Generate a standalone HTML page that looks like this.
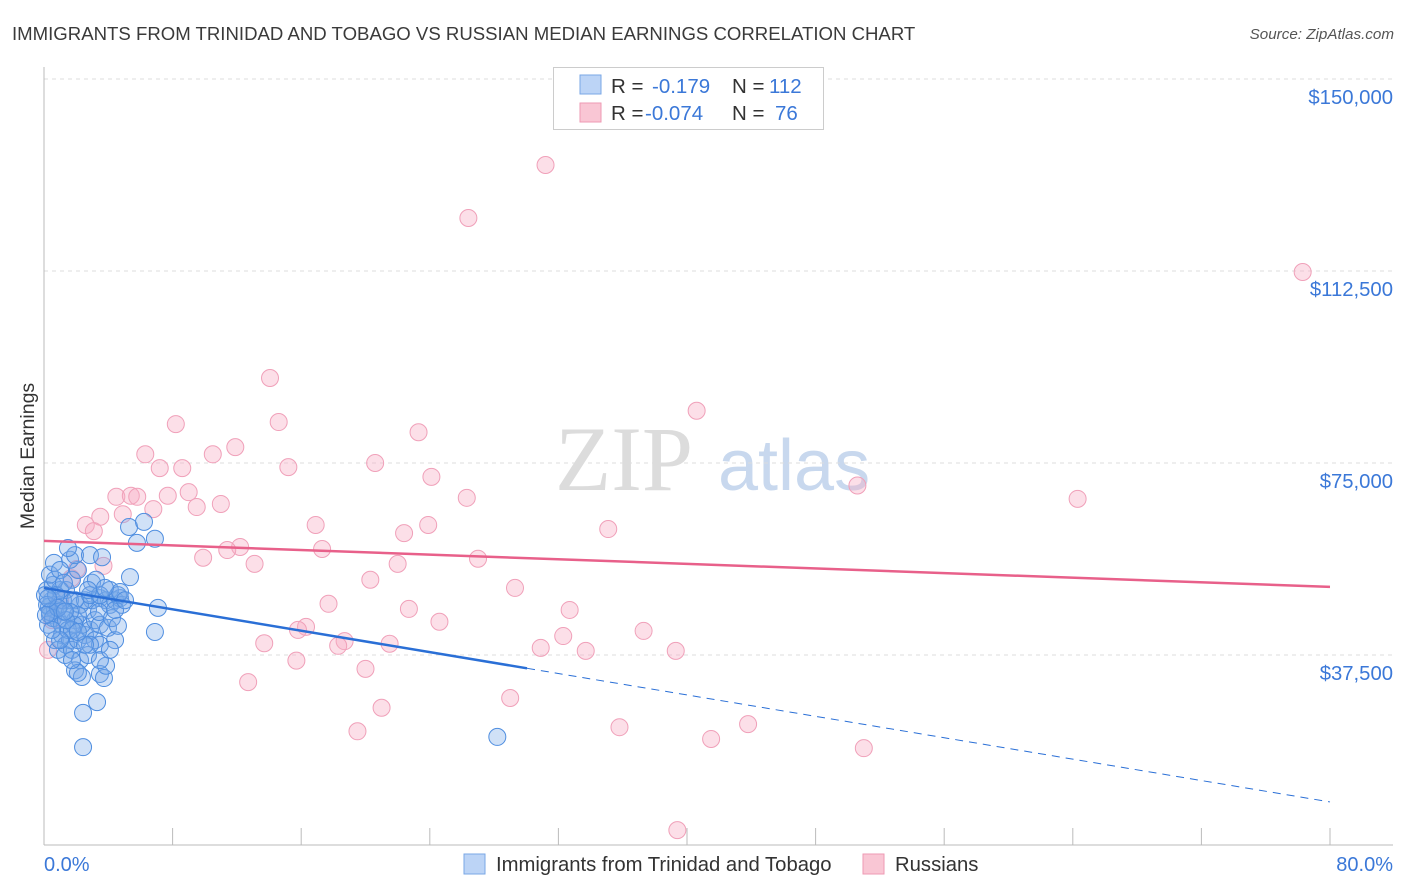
<!DOCTYPE html>
<html><head><meta charset="utf-8"><style>
body{margin:0;background:#fff;font-family:"Liberation Sans",sans-serif}
svg{display:block}
</style></head><body>
<svg id="chart" width="1406" height="892" viewBox="0 0 1406 892">
<text x="12" y="40" font-size="18.6" fill="#3a3a3a">IMMIGRANTS FROM TRINIDAD AND TOBAGO VS RUSSIAN MEDIAN EARNINGS CORRELATION CHART</text>
<text x="1394" y="39" font-size="15.2" fill="#555" font-style="italic" text-anchor="end">Source: ZipAtlas.com</text>
<text transform="translate(34,456) rotate(-90)" font-size="19.5" fill="#333" text-anchor="middle">Median Earnings</text>
<g><text x="555" y="490" font-size="92" fill="#dcdcdc" font-family="Liberation Serif,serif">ZIP</text><text x="718" y="490" font-size="72" fill="#c8d8ee">atlas</text></g>
<g id="grid"></g><g id="axes"></g><g id="pink"></g><g id="blue"></g><g id="trends"></g>
<g>
<rect x="553.5" y="67.5" width="270" height="62" fill="#fff" stroke="#ccc"/>
<rect x="580" y="75" width="21" height="19" fill="#bcd4f6" stroke="#7aa7e6"/>
<rect x="580" y="103" width="21" height="19" fill="#f9c6d4" stroke="#ee9ab3"/>
<text x="611" y="93" font-size="20.5" fill="#333">R = </text><text x="652" y="93" font-size="20.5" fill="#3b78d8">-0.179</text>
<text x="732" y="93" font-size="20.5" fill="#333">N = </text><text x="769" y="93" font-size="20.5" fill="#3b78d8">112</text>
<text x="611" y="120" font-size="20.5" fill="#333">R = </text><text x="645" y="120" font-size="20.5" fill="#3b78d8">-0.074</text>
<text x="732" y="120" font-size="20.5" fill="#333">N = </text><text x="775" y="120" font-size="20.5" fill="#3b78d8">76</text>
</g>
<g>
<rect x="464" y="854" width="21" height="20" fill="#bcd4f6" stroke="#7aa7e6"/>
<text x="496" y="871" font-size="20.3" fill="#333">Immigrants from Trinidad and Tobago</text>
<rect x="863" y="854" width="21" height="20" fill="#f9c6d4" stroke="#ee9ab3"/>
<text x="895" y="871" font-size="20.3" fill="#333">Russians</text>
</g>
</svg>
<script>
const yTicks=[150000,112500,75000,37500];
const yTickLabels=["$150,000","$112,500","$75,000","$37,500"];
const xTicks=[0,8,16,24,32,40,48,56,64,72,80];
const xEndLabels=["0.0%","80.0%"];
const pinkX=[31.2,26.4,78.3,14.06,40.6,8.2,14.6,23.3,11.9,6.3,10.5,7.2,8.6,15.2,20.6,24.1,50.6,9.0,7.7,4.5,5.4,5.8,26.3,64.3,9.5,11.0,6.8,4.9,3.5,2.6,3.1,16.9,23.9,35.1,22.4,12.2,11.4,17.3,9.9,27.0,13.1,22.0,2.05,3.7,1.7,20.3,29.3,17.7,22.7,32.7,24.6,37.3,16.3,15.8,32.3,18.7,18.3,13.7,21.5,30.9,33.7,39.3,15.7,20.0,12.7,29.0,21.0,35.8,43.8,19.5,41.5,51.0,39.4,0.25,0.5,1.0];
const pinkY=[133200,122850,112300,91600,85200,82600,83000,81000,78100,76700,76700,74000,74000,74200,75000,72300,70600,69300,68600,68400,68600,68400,68200,68000,66400,67000,66000,65000,64500,62900,61700,62900,62900,62100,61300,58600,58000,58200,56500,56300,55300,55300,54300,54900,52500,52200,50600,47500,46500,46300,44000,42200,43000,42400,41200,40200,39300,39800,39700,38900,38300,38300,36400,34800,32200,29100,27200,23400,24000,22600,21100,19300,3300,38500,44300,48200];
const blueX=[.31,.37,.5,.68,.87,.19,.56,1.0,1.24,.25,.68,1.12,1.37,1.62,.87,1.31,1.74,2.11,2.55,2.86,3.17,3.48,2.36,2.74,2.99,3.48,3.86,4.1,4.42,4.73,4.85,1.93,2.24,1.62,1.37,1.74,2.11,1.62,1.93,2.86,1.49,3.61,2.99,3.23,4.1,4.6,5.35,2.55,1.18,1.0,.68,.37,1.93,2.11,3.17,3.48,3.98,4.42,2.24,2.74,1.93,2.36,3.48,3.73,3.86,2.11,3.3,2.43,2.43,5.29,6.22,5.78,6.9,7.09,6.9,28.2,.06,.19,.37,.56,.75,1.12,1.49,1.87,1.62,2.86,2.55,3.42,2.86,4.23,4.6,3.48,4.1,.62,1.0,1.24,1.74,2.11,4.42,4.73,5.04,1.37,1.0,1.74,3.48,3.79,2.74,.87,.5,.12,.25,1.3];
const blueY=[46.9,45.3,48.2,46.3,44.3,50.2,51.2,47.3,45.9,43.4,40.4,41.4,39.5,40.4,38.5,37.5,38.5,40.4,41.4,42.4,40.4,39.5,43.4,46.3,48.2,48.6,48.2,47.3,48.2,48.6,47.3,44.3,47.3,48.2,50.2,52.2,54.1,56.1,57.0,57.0,58.4,56.6,51.6,52.2,50.2,49.2,52.7,48.2,48.2,50.2,52.2,53.2,48.2,45.3,44.3,43.4,42.8,40.4,36.5,37.5,34.5,33.2,33.8,33.0,35.4,34.0,28.3,26.2,19.5,62.5,63.5,59.4,60.2,46.7,42.0,21.5,49.2,47.3,45.9,44.7,49.2,43.4,42.4,43.4,45.9,39.5,39.5,45.9,49.2,44.7,43.2,36.5,38.5,55.5,54.1,51.6,42.4,42.0,46.3,49.8,48.2,44.3,40.4,36.5,49.2,50.6,50.2,46.7,42.4,45.3,48.6,46.0].map(v=>v*1000);
const blueTrend=[50600,8800];   // value at 0% and 80%
const blueSolidEnd=30.05;       // % where solid line ends
const pinkTrend=[59800,50800];

const X=p=>44+p/80*1286;
const Y=v=>79+(150000-v)/37500*192;
const NS="http://www.w3.org/2000/svg";
function mk(tag,attrs,parent){const e=document.createElementNS(NS,tag);for(const k in attrs)e.setAttribute(k,attrs[k]);document.getElementById(parent).appendChild(e);return e;}
yTicks.forEach((t,i)=>{
  const l=mk('line',{x1:44,x2:1393,y1:Y(t),y2:Y(t),stroke:'#ddd','stroke-dasharray':'4,4'},'grid');
  
  
  const tx=mk('text',{x:1393,y:Y(t)+25,'font-size':20.3,fill:'#3b78d8','text-anchor':'end'},'grid');
  tx.textContent=yTickLabels[i];
  
  
});
let a=mk('line',{x1:44,x2:44,y1:67,y2:845,stroke:'#bbb'},'axes');


a=mk('line',{x1:44,x2:1393,y1:845,y2:845,stroke:'#bbb'},'axes');


xTicks.forEach(t=>{
  const l=mk('line',{x1:X(t),x2:X(t),y1:828,y2:845,stroke:'#bbb'},'axes');
  
  
});
[[0,'start',44],[1,'end',1393]].forEach(([i,anc,x])=>{
  const tx=mk('text',{x:x,y:871,'font-size':20,fill:'#3b78d8','text-anchor':anc},'axes');
  tx.textContent=xEndLabels[i];
  
  
});
pinkX.forEach((p,i)=>{
  const c=mk('circle',{cx:X(p),cy:Y(pinkY[i]),r:8.5,fill:'rgba(246,170,195,0.38)',stroke:'#f0a0b9','stroke-width':1},'pink');
  
  
});
blueX.forEach((p,i)=>{
  const c=mk('circle',{cx:X(p),cy:Y(blueY[i]),r:8.5,fill:'rgba(120,168,232,0.35)',stroke:'#4f8ee0','stroke-width':1},'blue');
  
  
});
const bAt=p=>blueTrend[0]+(blueTrend[1]-blueTrend[0])*p/80;
let t=mk('line',{x1:X(0),y1:Y(bAt(0)),x2:X(blueSolidEnd),y2:Y(bAt(blueSolidEnd)),stroke:'#2a6fd6','stroke-width':2.5},'trends');


t=mk('line',{x1:X(blueSolidEnd),y1:Y(bAt(blueSolidEnd)),x2:X(80),y2:Y(bAt(80)),stroke:'#2a6fd6','stroke-width':1,'stroke-dasharray':'8,6'},'trends');


t=mk('line',{x1:X(0),y1:Y(pinkTrend[0]),x2:X(80),y2:Y(pinkTrend[1]),stroke:'#e8608a','stroke-width':2.5},'trends');


</script>
</body></html>
